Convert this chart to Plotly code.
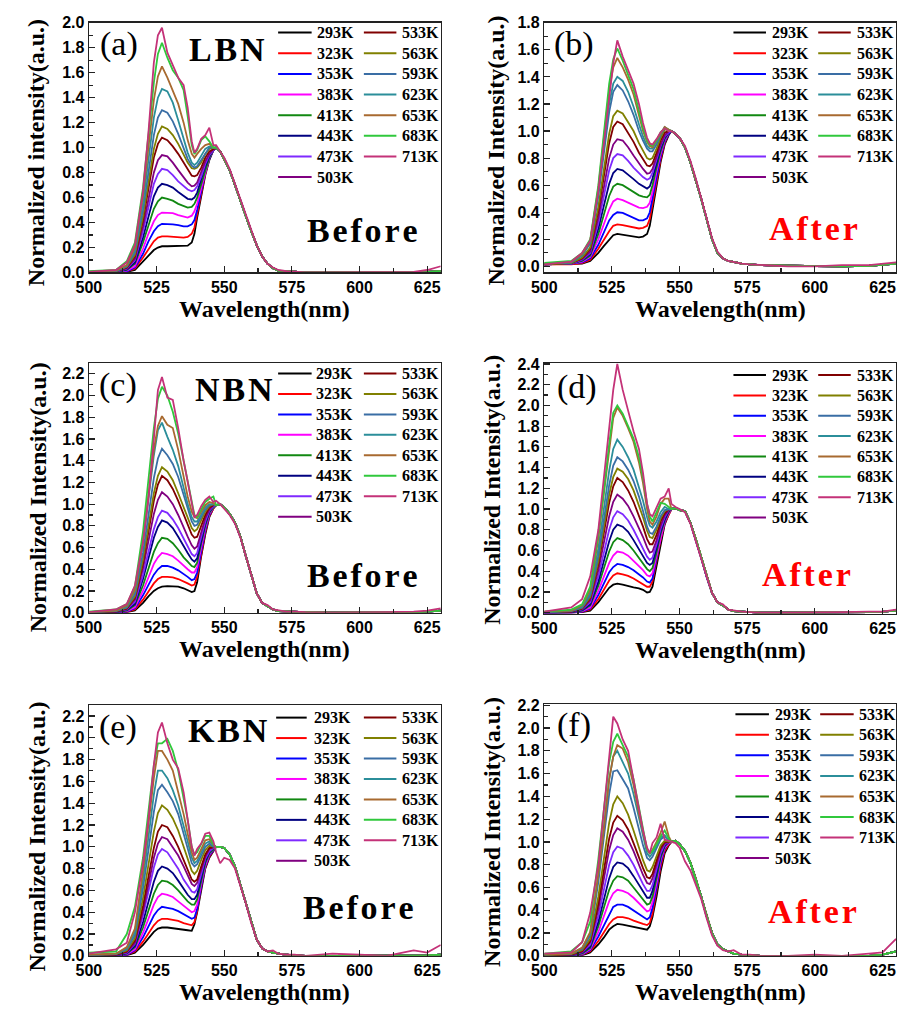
import plotly.graph_objects as go

W, H = 901, 1015


def px(x):
    return x / W


def py(y):
    return 1 - y / H


SERIF = "Liberation Serif"
SANS = "Liberation Sans"

temps = ["293K", "323K", "353K", "383K", "413K", "443K", "473K", "503K",
         "533K", "563K", "593K", "623K", "653K", "683K", "713K"]
colors = ["#000000", "#FF0000", "#0000FF", "#FF00FF", "#118811", "#000080",
          "#7F2AFF", "#800080", "#800000", "#808000", "#3A6EA5", "#2B8E9A",
          "#A86A30", "#30C83C", "#C43278"]

xtick_vals = [500, 525, 550, 575, 600, 625]

# wavelength grids (nm): rising/first-band part and second-band/tail part
wl_head = [500, 510, 514, 517, 520, 522, 524, 525.5, 527, 529, 531, 533, 535,
           536.5, 538, 539, 540, 541.5, 543, 544.5, 546]
wl_tail = [547, 548.5, 550, 552, 554, 556, 558, 560, 562, 564, 566, 568, 570,
           573, 576, 580, 590, 600, 610, 620, 625, 630]

# ---------------- (a) LBN before ----------------
lbn_before = [
    [0.0, 0.0, 0.005, 0.02, 0.09, 0.14, 0.18, 0.2, 0.21, 0.21, 0.21, 0.21, 0.21, 0.215, 0.24, 0.31, 0.44, 0.62, 0.78, 0.9, 0.98],
    [0.0, 0.0, 0.01, 0.03, 0.12, 0.19, 0.25, 0.28, 0.29, 0.29, 0.285, 0.285, 0.28, 0.285, 0.31, 0.36, 0.46, 0.63, 0.79, 0.91, 0.98],
    [0.0, 0.0, 0.01, 0.04, 0.15, 0.25, 0.33, 0.37, 0.39, 0.39, 0.385, 0.38, 0.37, 0.37, 0.385, 0.42, 0.5, 0.65, 0.8, 0.91, 0.98],
    [0.0, 0.005, 0.015, 0.05, 0.19, 0.31, 0.41, 0.46, 0.48, 0.48, 0.475, 0.46, 0.445, 0.44, 0.455, 0.49, 0.55, 0.68, 0.81, 0.92, 0.98],
    [0.0, 0.005, 0.02, 0.07, 0.24, 0.38, 0.51, 0.57, 0.6, 0.59, 0.575, 0.55, 0.53, 0.52, 0.525, 0.55, 0.6, 0.71, 0.83, 0.92, 0.98],
    [0.0, 0.005, 0.025, 0.08, 0.28, 0.45, 0.61, 0.68, 0.71, 0.7, 0.68, 0.645, 0.61, 0.59, 0.585, 0.6, 0.64, 0.74, 0.85, 0.93, 0.98],
    [0.0, 0.005, 0.03, 0.1, 0.33, 0.53, 0.71, 0.79, 0.83, 0.82, 0.78, 0.73, 0.69, 0.665, 0.65, 0.66, 0.69, 0.77, 0.87, 0.94, 0.98],
    [0.0, 0.01, 0.035, 0.11, 0.37, 0.6, 0.8, 0.9, 0.94, 0.93, 0.88, 0.82, 0.76, 0.72, 0.69, 0.695, 0.72, 0.8, 0.89, 0.95, 0.99],
    [0.0, 0.01, 0.04, 0.13, 0.42, 0.68, 0.92, 1.03, 1.08, 1.06, 1.01, 0.95, 0.88, 0.82, 0.775, 0.77, 0.78, 0.84, 0.92, 0.97, 0.99],
    [0.0, 0.01, 0.045, 0.14, 0.45, 0.73, 0.99, 1.11, 1.17, 1.15, 1.1, 1.03, 0.94, 0.88, 0.835, 0.83, 0.84, 0.88, 0.95, 0.99, 1.0],
    [0.005, 0.01, 0.05, 0.16, 0.5, 0.81, 1.1, 1.24, 1.3, 1.28, 1.21, 1.11, 0.99, 0.91, 0.855, 0.84, 0.85, 0.9, 0.96, 1.0, 1.0],
    [0.005, 0.015, 0.055, 0.18, 0.56, 0.91, 1.24, 1.4, 1.47, 1.45, 1.36, 1.22, 1.06, 0.96, 0.88, 0.86, 0.88, 0.93, 0.99, 1.01, 1.0],
    [0.005, 0.015, 0.06, 0.2, 0.62, 1.01, 1.38, 1.57, 1.65, 1.56, 1.46, 1.35, 1.2, 1.06, 0.95, 0.92, 0.95, 0.99, 1.02, 1.03, 1.0],
    [0.01, 0.02, 0.09, 0.24, 0.68, 1.1, 1.52, 1.75, 1.84, 1.72, 1.62, 1.56, 1.46, 1.25, 1.02, 0.95, 0.98, 1.06, 1.09, 1.05, 1.0],
    [0.005, 0.02, 0.08, 0.22, 0.65, 1.12, 1.68, 1.9, 1.96, 1.76, 1.66, 1.56, 1.5, 1.32, 1.05, 0.96, 0.99, 1.07, 1.1, 1.16, 1.02],
]
lbn_before_tail = [1.0, 0.97, 0.91, 0.82, 0.7, 0.57, 0.45, 0.33, 0.22, 0.13, 0.07, 0.035, 0.015, 0.01, 0.005, 0.0, 0.0, 0.0, 0.0, 0.0, 0.005, 0.01]
lbn_before_tail_713 = [1.02, 0.97, 0.92, 0.83, 0.71, 0.58, 0.46, 0.34, 0.22, 0.13, 0.07, 0.04, 0.02, 0.01, 0.005, 0.0, 0.0, 0.0, 0.0, 0.005, 0.02, 0.05]

# ---------------- (b) LBN after ----------------
lbn_after = [
    [0.015, 0.015, 0.02, 0.04, 0.1, 0.15, 0.2, 0.23, 0.24, 0.235, 0.225, 0.22, 0.215, 0.22, 0.24, 0.3, 0.42, 0.6, 0.77, 0.9, 0.97],
    [0.015, 0.015, 0.025, 0.05, 0.13, 0.2, 0.26, 0.3, 0.31, 0.305, 0.295, 0.285, 0.28, 0.285, 0.3, 0.35, 0.46, 0.63, 0.79, 0.91, 0.98],
    [0.015, 0.02, 0.03, 0.06, 0.16, 0.25, 0.34, 0.38, 0.4, 0.395, 0.375, 0.355, 0.34, 0.34, 0.355, 0.4, 0.5, 0.66, 0.81, 0.92, 0.98],
    [0.015, 0.02, 0.035, 0.07, 0.2, 0.31, 0.42, 0.48, 0.5, 0.49, 0.47, 0.45, 0.435, 0.43, 0.44, 0.47, 0.55, 0.7, 0.83, 0.93, 0.99],
    [0.015, 0.02, 0.04, 0.08, 0.24, 0.38, 0.52, 0.59, 0.61, 0.6, 0.575, 0.55, 0.525, 0.515, 0.51, 0.53, 0.6, 0.73, 0.85, 0.94, 0.99],
    [0.015, 0.02, 0.045, 0.09, 0.28, 0.45, 0.61, 0.69, 0.72, 0.71, 0.68, 0.645, 0.61, 0.59, 0.575, 0.59, 0.65, 0.76, 0.87, 0.95, 0.99],
    [0.015, 0.02, 0.05, 0.1, 0.32, 0.52, 0.71, 0.8, 0.83, 0.82, 0.78, 0.73, 0.69, 0.66, 0.64, 0.65, 0.69, 0.79, 0.89, 0.96, 0.99],
    [0.015, 0.025, 0.055, 0.11, 0.36, 0.59, 0.8, 0.9, 0.94, 0.93, 0.88, 0.82, 0.76, 0.72, 0.685, 0.69, 0.72, 0.81, 0.9, 0.97, 1.0],
    [0.015, 0.025, 0.06, 0.13, 0.41, 0.67, 0.91, 1.03, 1.07, 1.05, 0.99, 0.92, 0.84, 0.79, 0.745, 0.74, 0.76, 0.84, 0.93, 0.99, 1.0],
    [0.015, 0.025, 0.065, 0.14, 0.44, 0.72, 0.98, 1.11, 1.15, 1.13, 1.07, 1.0, 0.91, 0.85, 0.8, 0.79, 0.8, 0.87, 0.95, 1.01, 1.01],
    [0.02, 0.03, 0.08, 0.17, 0.52, 0.85, 1.14, 1.29, 1.34, 1.3, 1.22, 1.12, 1.0, 0.93, 0.87, 0.85, 0.85, 0.9, 0.97, 1.02, 1.01],
    [0.02, 0.03, 0.085, 0.18, 0.55, 0.9, 1.2, 1.35, 1.4, 1.37, 1.29, 1.18, 1.05, 0.96, 0.89, 0.87, 0.87, 0.92, 0.98, 1.03, 1.01],
    [0.02, 0.035, 0.09, 0.19, 0.58, 0.95, 1.3, 1.47, 1.54, 1.47, 1.38, 1.27, 1.12, 1.0, 0.92, 0.89, 0.88, 0.93, 0.99, 1.03, 1.01],
    [0.025, 0.04, 0.1, 0.2, 0.6, 0.98, 1.35, 1.53, 1.61, 1.52, 1.42, 1.31, 1.15, 1.02, 0.93, 0.9, 0.89, 0.93, 0.99, 1.02, 1.0],
    [0.015, 0.035, 0.1, 0.19, 0.56, 0.9, 1.28, 1.5, 1.67, 1.55, 1.45, 1.35, 1.2, 1.06, 0.95, 0.91, 0.9, 0.94, 0.99, 1.02, 1.0],
]
lbn_after_tail = [1.0, 0.98, 0.95, 0.88, 0.77, 0.64, 0.5, 0.35, 0.2, 0.1, 0.06, 0.04, 0.03, 0.02, 0.015, 0.01, 0.005, 0.0, 0.0, 0.005, 0.01, 0.02]
lbn_after_tail_713 = [1.0, 0.98, 0.95, 0.89, 0.78, 0.65, 0.5, 0.36, 0.21, 0.11, 0.06, 0.04, 0.03, 0.02, 0.015, 0.01, 0.0, 0.0, 0.01, 0.01, 0.02, 0.03]

# ---------------- (c) NBN before ----------------
nbn_before = [
    [0.0, 0.0, 0.005, 0.02, 0.09, 0.15, 0.2, 0.225, 0.24, 0.245, 0.245, 0.24, 0.225, 0.21, 0.19, 0.2, 0.28, 0.52, 0.72, 0.88, 0.96],
    [0.0, 0.0, 0.008, 0.03, 0.12, 0.2, 0.27, 0.31, 0.33, 0.33, 0.325, 0.31, 0.29, 0.27, 0.25, 0.26, 0.33, 0.55, 0.74, 0.89, 0.96],
    [0.0, 0.0, 0.01, 0.04, 0.16, 0.26, 0.35, 0.4, 0.43, 0.43, 0.415, 0.39, 0.36, 0.33, 0.3, 0.31, 0.37, 0.58, 0.76, 0.9, 0.97],
    [0.0, 0.005, 0.015, 0.05, 0.2, 0.33, 0.45, 0.51, 0.55, 0.54, 0.52, 0.48, 0.43, 0.4, 0.37, 0.37, 0.42, 0.61, 0.78, 0.91, 0.97],
    [0.0, 0.005, 0.02, 0.07, 0.25, 0.41, 0.56, 0.64, 0.69, 0.68, 0.64, 0.58, 0.51, 0.47, 0.43, 0.42, 0.46, 0.64, 0.8, 0.92, 0.97],
    [0.0, 0.005, 0.025, 0.08, 0.31, 0.51, 0.69, 0.79, 0.85, 0.83, 0.78, 0.7, 0.61, 0.55, 0.49, 0.47, 0.5, 0.67, 0.82, 0.93, 0.98],
    [0.0, 0.01, 0.03, 0.1, 0.35, 0.57, 0.77, 0.88, 0.94, 0.92, 0.86, 0.78, 0.68, 0.61, 0.54, 0.52, 0.55, 0.7, 0.84, 0.94, 0.98],
    [0.0, 0.01, 0.035, 0.12, 0.41, 0.67, 0.91, 1.04, 1.11, 1.07, 1.0, 0.9, 0.78, 0.7, 0.62, 0.59, 0.61, 0.74, 0.87, 0.95, 0.99],
    [0.0, 0.01, 0.04, 0.14, 0.46, 0.76, 1.03, 1.18, 1.26, 1.22, 1.14, 1.03, 0.9, 0.8, 0.72, 0.69, 0.7, 0.8, 0.9, 0.97, 0.99],
    [0.005, 0.015, 0.045, 0.15, 0.49, 0.81, 1.1, 1.26, 1.34, 1.3, 1.22, 1.1, 0.97, 0.87, 0.78, 0.75, 0.77, 0.85, 0.93, 0.98, 1.0],
    [0.005, 0.015, 0.05, 0.17, 0.55, 0.91, 1.24, 1.42, 1.51, 1.45, 1.37, 1.25, 1.08, 0.95, 0.84, 0.8, 0.81, 0.88, 0.95, 0.99, 1.0],
    [0.005, 0.02, 0.06, 0.2, 0.64, 1.06, 1.45, 1.68, 1.75, 1.62, 1.5, 1.35, 1.15, 1.0, 0.88, 0.84, 0.84, 0.9, 0.97, 1.0, 1.0],
    [0.005, 0.02, 0.065, 0.21, 0.66, 1.1, 1.5, 1.72, 1.81, 1.73, 1.7, 1.5, 1.25, 1.07, 0.93, 0.88, 0.87, 0.93, 0.99, 1.02, 1.01],
    [0.01, 0.03, 0.08, 0.24, 0.75, 1.25, 1.7, 1.97, 2.08, 2.0, 1.85, 1.65, 1.4, 1.2, 1.0, 0.9, 0.88, 0.95, 1.02, 1.05, 1.07],
    [0.005, 0.03, 0.08, 0.25, 0.65, 1.05, 1.6, 2.05, 2.17, 1.98, 1.96, 1.7, 1.4, 1.2, 1.02, 0.88, 0.9, 0.98, 1.04, 1.07, 1.02],
]
nbn_before_tail = [0.99, 1.0, 0.97, 0.91, 0.83, 0.7, 0.52, 0.35, 0.18, 0.09, 0.06, 0.03, 0.015, 0.01, 0.005, 0.005, 0.0, 0.0, 0.0, 0.005, 0.01, 0.02]
nbn_before_tail_713 = [1.03, 1.0, 0.96, 0.9, 0.82, 0.69, 0.52, 0.35, 0.18, 0.09, 0.07, 0.03, 0.02, 0.01, 0.01, 0.005, 0.0, 0.0, 0.005, 0.01, 0.02, 0.04]

# ---------------- (d) NBN after ----------------
nbn_after = [
    [0.0, 0.0, 0.005, 0.02, 0.1, 0.17, 0.24, 0.27, 0.28, 0.27, 0.255, 0.245, 0.235, 0.22, 0.195, 0.2, 0.25, 0.45, 0.68, 0.85, 0.95],
    [0.0, 0.0, 0.008, 0.03, 0.13, 0.22, 0.31, 0.36, 0.38, 0.37, 0.355, 0.33, 0.3, 0.28, 0.25, 0.25, 0.3, 0.5, 0.7, 0.86, 0.95],
    [0.0, 0.0, 0.01, 0.04, 0.17, 0.28, 0.39, 0.44, 0.47, 0.46, 0.44, 0.41, 0.37, 0.34, 0.3, 0.29, 0.33, 0.52, 0.72, 0.87, 0.96],
    [0.0, 0.005, 0.015, 0.05, 0.21, 0.35, 0.48, 0.55, 0.59, 0.58, 0.55, 0.5, 0.45, 0.41, 0.36, 0.35, 0.38, 0.55, 0.74, 0.88, 0.96],
    [0.0, 0.005, 0.02, 0.07, 0.26, 0.43, 0.59, 0.68, 0.72, 0.7, 0.66, 0.6, 0.53, 0.48, 0.42, 0.4, 0.43, 0.58, 0.76, 0.89, 0.97],
    [0.0, 0.005, 0.025, 0.08, 0.3, 0.5, 0.69, 0.8, 0.85, 0.83, 0.78, 0.7, 0.61, 0.55, 0.48, 0.46, 0.48, 0.62, 0.78, 0.9, 0.98],
    [0.0, 0.01, 0.03, 0.1, 0.35, 0.58, 0.8, 0.92, 0.98, 0.95, 0.89, 0.8, 0.7, 0.62, 0.54, 0.51, 0.53, 0.66, 0.81, 0.92, 0.99],
    [0.0, 0.01, 0.035, 0.12, 0.41, 0.68, 0.93, 1.07, 1.14, 1.1, 1.03, 0.93, 0.82, 0.73, 0.63, 0.58, 0.59, 0.7, 0.84, 0.94, 0.99],
    [0.005, 0.01, 0.04, 0.14, 0.47, 0.78, 1.06, 1.22, 1.3, 1.26, 1.18, 1.07, 0.94, 0.83, 0.71, 0.66, 0.66, 0.75, 0.88, 0.96, 1.0],
    [0.005, 0.015, 0.045, 0.15, 0.5, 0.83, 1.14, 1.31, 1.39, 1.36, 1.29, 1.18, 1.04, 0.92, 0.79, 0.73, 0.72, 0.8, 0.91, 0.98, 1.0],
    [0.005, 0.015, 0.05, 0.17, 0.55, 0.9, 1.23, 1.42, 1.5, 1.46, 1.38, 1.27, 1.12, 0.98, 0.83, 0.77, 0.76, 0.83, 0.93, 0.99, 1.0],
    [0.005, 0.02, 0.06, 0.19, 0.62, 1.01, 1.37, 1.58, 1.67, 1.6, 1.5, 1.38, 1.22, 1.08, 0.92, 0.84, 0.82, 0.88, 0.97, 1.02, 1.0],
    [0.01, 0.02, 0.07, 0.22, 0.72, 1.16, 1.6, 1.88, 1.98, 1.9, 1.78, 1.65, 1.45, 1.25, 1.0, 0.88, 0.85, 0.93, 1.05, 1.1, 1.1],
    [0.01, 0.03, 0.08, 0.25, 0.77, 1.17, 1.63, 1.93, 2.0, 1.92, 1.8, 1.68, 1.5, 1.3, 1.05, 0.93, 0.88, 0.97, 1.06, 1.05, 1.02],
    [0.01, 0.05, 0.13, 0.35, 0.8, 1.3, 1.8, 2.15, 2.4, 2.15, 1.95, 1.75, 1.58, 1.35, 1.05, 0.95, 0.93, 1.02, 1.1, 1.12, 1.2],
]
nbn_after_tail = [1.0, 1.01, 0.99, 0.98, 0.87, 0.71, 0.53, 0.35, 0.19, 0.1, 0.07, 0.03, 0.015, 0.01, 0.005, 0.0, 0.0, 0.0, 0.0, 0.005, 0.01, 0.02]
nbn_after_tail_713 = [1.05, 1.02, 1.0, 0.97, 0.86, 0.7, 0.52, 0.35, 0.19, 0.1, 0.08, 0.03, 0.02, 0.01, 0.005, 0.0, 0.0, 0.0, 0.005, 0.01, 0.01, 0.03]

# ---------------- (e) KBN before ----------------
kbn_before = [
    [0.0, 0.0, 0.005, 0.03, 0.1, 0.16, 0.22, 0.25, 0.26, 0.26, 0.255, 0.25, 0.245, 0.235, 0.23, 0.29, 0.4, 0.62, 0.8, 0.9, 0.96],
    [0.0, 0.0, 0.008, 0.04, 0.13, 0.21, 0.28, 0.32, 0.34, 0.34, 0.33, 0.32, 0.3, 0.29, 0.28, 0.31, 0.41, 0.63, 0.81, 0.91, 0.97],
    [0.0, 0.0, 0.01, 0.05, 0.17, 0.27, 0.37, 0.42, 0.45, 0.44, 0.43, 0.41, 0.38, 0.36, 0.34, 0.35, 0.43, 0.64, 0.82, 0.92, 0.97],
    [0.0, 0.005, 0.015, 0.06, 0.21, 0.34, 0.47, 0.54, 0.57, 0.56, 0.54, 0.5, 0.46, 0.43, 0.4, 0.41, 0.47, 0.66, 0.83, 0.93, 0.98],
    [0.0, 0.005, 0.02, 0.08, 0.26, 0.42, 0.57, 0.65, 0.69, 0.68, 0.65, 0.6, 0.54, 0.5, 0.47, 0.47, 0.52, 0.69, 0.85, 0.94, 0.98],
    [0.0, 0.005, 0.025, 0.09, 0.31, 0.5, 0.68, 0.78, 0.82, 0.8, 0.76, 0.69, 0.61, 0.56, 0.52, 0.52, 0.56, 0.72, 0.87, 0.95, 0.99],
    [0.0, 0.01, 0.03, 0.11, 0.37, 0.6, 0.81, 0.93, 0.98, 0.95, 0.88, 0.8, 0.7, 0.64, 0.59, 0.58, 0.61, 0.75, 0.89, 0.96, 0.99],
    [0.0, 0.01, 0.035, 0.12, 0.41, 0.67, 0.9, 1.03, 1.09, 1.07, 1.0, 0.92, 0.82, 0.74, 0.66, 0.64, 0.67, 0.79, 0.91, 0.98, 1.0],
    [0.005, 0.01, 0.04, 0.14, 0.46, 0.74, 0.99, 1.14, 1.2, 1.18, 1.1, 1.0, 0.88, 0.79, 0.7, 0.68, 0.7, 0.82, 0.93, 0.99, 1.0],
    [0.005, 0.015, 0.05, 0.16, 0.53, 0.85, 1.14, 1.31, 1.38, 1.34, 1.26, 1.15, 1.0, 0.89, 0.78, 0.75, 0.78, 0.88, 0.97, 1.01, 1.0],
    [0.005, 0.015, 0.06, 0.19, 0.62, 0.99, 1.32, 1.52, 1.57, 1.5, 1.42, 1.3, 1.12, 0.98, 0.85, 0.82, 0.84, 0.92, 1.0, 1.03, 1.0],
    [0.01, 0.02, 0.07, 0.22, 0.7, 1.1, 1.48, 1.7, 1.7, 1.63, 1.52, 1.38, 1.2, 1.05, 0.9, 0.85, 0.87, 0.95, 1.03, 1.05, 1.01],
    [0.01, 0.02, 0.08, 0.25, 0.78, 1.22, 1.63, 1.88, 1.88, 1.8, 1.7, 1.5, 1.3, 1.12, 0.95, 0.88, 0.9, 0.98, 1.06, 1.07, 1.02],
    [0.03, 0.04, 0.2, 0.45, 0.9, 1.3, 1.75, 1.95, 1.95, 1.99, 1.88, 1.7, 1.45, 1.25, 1.0, 0.93, 0.95, 1.02, 1.1, 1.1, 1.02],
    [0.02, 0.06, 0.12, 0.4, 0.85, 1.25, 1.75, 2.05, 2.14, 1.95, 1.8, 1.72, 1.5, 1.25, 1.0, 0.92, 0.98, 1.03, 1.12, 1.13, 1.05],
]
kbn_before_tail = [1.0, 1.0, 0.99, 0.93, 0.82, 0.65, 0.48, 0.3, 0.15, 0.07, 0.04, 0.03, 0.02, 0.01, 0.005, 0.0, 0.0, 0.0, 0.0, 0.0, 0.005, 0.01]
kbn_before_tail_713 = [0.95, 0.85, 0.9, 0.88, 0.8, 0.65, 0.48, 0.3, 0.15, 0.07, 0.04, 0.05, 0.02, 0.01, 0.01, 0.0, 0.02, 0.01, 0.0, 0.05, 0.03, 0.1]

# ---------------- (f) KBN after ----------------
kbn_after = [
    [0.0, 0.0, 0.005, 0.03, 0.1, 0.16, 0.23, 0.26, 0.28, 0.275, 0.265, 0.25, 0.24, 0.235, 0.23, 0.26, 0.34, 0.52, 0.74, 0.9, 0.97],
    [0.0, 0.0, 0.008, 0.04, 0.13, 0.2, 0.28, 0.32, 0.34, 0.34, 0.33, 0.31, 0.29, 0.28, 0.27, 0.29, 0.37, 0.56, 0.78, 0.92, 0.98],
    [0.0, 0.0, 0.01, 0.05, 0.17, 0.27, 0.37, 0.43, 0.45, 0.45, 0.43, 0.4, 0.37, 0.34, 0.32, 0.34, 0.42, 0.6, 0.81, 0.94, 0.99],
    [0.0, 0.005, 0.015, 0.06, 0.21, 0.34, 0.48, 0.55, 0.58, 0.57, 0.55, 0.51, 0.46, 0.42, 0.39, 0.4, 0.47, 0.64, 0.84, 0.95, 0.99],
    [0.0, 0.005, 0.02, 0.07, 0.26, 0.41, 0.58, 0.66, 0.7, 0.69, 0.66, 0.6, 0.54, 0.49, 0.45, 0.46, 0.52, 0.68, 0.86, 0.96, 1.0],
    [0.0, 0.005, 0.025, 0.08, 0.3, 0.48, 0.68, 0.78, 0.82, 0.81, 0.77, 0.7, 0.62, 0.56, 0.51, 0.51, 0.57, 0.72, 0.88, 0.97, 1.0],
    [0.0, 0.01, 0.03, 0.1, 0.35, 0.56, 0.8, 0.91, 0.96, 0.94, 0.88, 0.8, 0.7, 0.63, 0.57, 0.57, 0.62, 0.76, 0.9, 0.98, 1.0],
    [0.005, 0.01, 0.035, 0.12, 0.41, 0.66, 0.93, 1.06, 1.12, 1.09, 1.02, 0.92, 0.8, 0.71, 0.64, 0.63, 0.68, 0.8, 0.93, 0.99, 1.0],
    [0.005, 0.01, 0.04, 0.13, 0.46, 0.74, 1.03, 1.17, 1.23, 1.19, 1.11, 0.99, 0.86, 0.77, 0.69, 0.68, 0.72, 0.84, 0.95, 1.0, 1.0],
    [0.005, 0.015, 0.05, 0.15, 0.52, 0.84, 1.17, 1.33, 1.4, 1.34, 1.24, 1.1, 0.95, 0.84, 0.75, 0.74, 0.78, 0.88, 0.97, 1.01, 1.0],
    [0.01, 0.02, 0.06, 0.18, 0.65, 1.02, 1.42, 1.62, 1.63, 1.55, 1.47, 1.3, 1.1, 0.97, 0.86, 0.84, 0.87, 0.95, 1.02, 1.05, 1.01],
    [0.01, 0.02, 0.07, 0.2, 0.7, 1.1, 1.55, 1.75, 1.8, 1.7, 1.6, 1.42, 1.2, 1.05, 0.9, 0.87, 0.9, 0.97, 1.04, 1.06, 1.01],
    [0.01, 0.02, 0.07, 0.21, 0.72, 1.1, 1.55, 1.75, 1.85, 1.82, 1.7, 1.5, 1.25, 1.08, 0.93, 0.9, 0.93, 1.0, 1.08, 1.18, 1.05],
    [0.02, 0.04, 0.12, 0.3, 0.85, 1.3, 1.7, 1.88, 1.95, 1.85, 1.75, 1.55, 1.3, 1.1, 0.93, 0.9, 0.92, 0.98, 1.05, 1.1, 1.03],
    [0.02, 0.03, 0.12, 0.38, 0.8, 1.25, 1.75, 2.1, 2.04, 1.9, 1.8, 1.55, 1.27, 1.1, 0.95, 0.9, 0.99, 1.04, 1.16, 1.02, 1.01],
]
kbn_after_tail = [1.0, 1.01, 0.98, 0.92, 0.82, 0.68, 0.52, 0.35, 0.2, 0.1, 0.06, 0.04, 0.02, 0.01, 0.005, 0.0, 0.0, 0.0, 0.0, 0.0, 0.01, 0.04]
kbn_after_tail_713 = [1.0, 0.99, 0.95, 0.83, 0.75, 0.63, 0.5, 0.33, 0.18, 0.09, 0.05, 0.04, 0.05, 0.01, 0.01, 0.0, 0.0, 0.01, 0.0, 0.02, 0.03, 0.15]

ytitle_lower = "Normalized intensity(a.u.)"
ytitle_upper = "Normalized Intensity(a.u.)"

# layout of each panel, in screen pixels
panels = [
    dict(head=lbn_before, tail=lbn_before_tail, hot=lbn_before_tail_713,
         box=(77, 434, 15, 269), yrange=[0, 2.0], ytitle=ytitle_lower, yt=(23, 147),
         label="(a)", lab=(108, 37), host="LBN", hostpos=(217, 42.5),
         state="Before", spos=(354, 226), scol="#000000",
         leg=((269, 303, 306), (356, 389, 393), 25, 21)),
    dict(head=lbn_after, tail=lbn_after_tail, hot=lbn_after_tail_713,
         box=(539, 896, 15, 269), yrange=[-0.045, 1.8], ytitle=ytitle_upper, yt=(490, 145),
         label="(b)", lab=(569, 37), host=None, hostpos=None,
         state="After", spos=(812, 224), scol="#FF0000",
         leg=((731, 764, 768), (817, 850, 854), 25, 21)),
    dict(head=nbn_before, tail=nbn_before_tail, hot=nbn_before_tail_713,
         box=(77, 434, 361, 615), yrange=[0, 2.3], ytitle=ytitle_upper, yt=(25, 498),
         label="(c)", lab=(107, 383), host="NBN", hostpos=(224, 387.5),
         state="Before", spos=(354, 577.5), scol="#000000",
         leg=((269, 303, 305), (356, 389, 393), 371.7, 20.8)),
    dict(head=nbn_after, tail=nbn_after_tail, hot=nbn_after_tail_713,
         box=(539, 896, 361, 616), yrange=[-0.01, 2.41], ytitle=ytitle_upper, yt=(486, 490),
         label="(d)", lab=(572, 385), host=None, hostpos=None,
         state="After", spos=(805, 576), scol="#FF0000",
         leg=((731, 764, 768), (817, 850, 854), 373.3, 20.7)),
    dict(head=kbn_before, tail=kbn_before_tail, hot=kbn_before_tail_713,
         box=(77, 434, 709, 964), yrange=[0, 2.3], ytitle=ytitle_upper, yt=(24, 843),
         label="(e)", lab=(107, 731.7), host="KBN", hostpos=(218, 735),
         state="Before", spos=(350, 915), scol="#000000",
         leg=((267, 298, 303), (356, 389, 393), 721.7, 20.8)),
    dict(head=kbn_after, tail=kbn_after_tail, hot=kbn_after_tail_713,
         box=(539, 896, 708, 964), yrange=[0, 2.21], ytitle=ytitle_upper, yt=(486, 838),
         label="(f)", lab=(569, 729), host=None, hostpos=None,
         state="After", spos=(811, 919), scol="#FF0000",
         leg=((733, 767, 771), (819, 853, 856), 718.3, 20.9)),
]

HAIR = "\u200a"


def spaced(s):
    return HAIR.join(list(s))


fig = go.Figure()
annotations = []
shapes = []
x_wl = wl_head + wl_tail

for k, p in enumerate(panels):
    n = "" if k == 0 else str(k + 1)
    xa, ya = "x" + n, "y" + n
    for i, t in enumerate(temps):
        tail = p["hot"] if i == len(temps) - 1 else p["tail"]
        fig.add_trace(go.Scatter(
            x=x_wl, y=p["head"][i] + tail, mode="lines", name=t,
            line=dict(color=colors[i], width=1.8), showlegend=False,
            hoverinfo="skip", xaxis=xa, yaxis=ya))
    x0, x1, y0, y1 = p["box"]
    axis_common = dict(
        showline=True, linecolor="#222222", linewidth=1.3, mirror=True,
        ticks="inside", ticklen=6, tickwidth=1.2, tickcolor="#222222",
        showgrid=False, zeroline=False,
        tickfont=dict(family=SANS, size=16, color="#000000", weight="bold"),
    )
    fig.layout["xaxis" + n] = dict(
        domain=[px(x0), px(x1)], anchor=ya, range=[500, 630],
        tickvals=xtick_vals,
        minor=dict(tickvals=[512.5, 537.5, 562.5, 587.5, 612.5], ticks="inside",
                   ticklen=4, tickcolor="#222222", tickwidth=1.2),
        **axis_common)
    fig.layout["yaxis" + n] = dict(
        domain=[py(y1), py(y0)], anchor=xa, range=p["yrange"],
        dtick=0.2, tick0=0, tickformat=".1f",
        minor=dict(dtick=0.1, ticks="inside", ticklen=4, tickcolor="#222222",
                   tickwidth=1.2),
        **axis_common)

    # axis titles
    annotations.append(dict(
        text="Wavelength(nm)", x=px((x0 + x1) / 2), y=py(y1 + 37),
        xref="paper", yref="paper", xanchor="center", yanchor="middle",
        showarrow=False, font=dict(family=SERIF, size=24, color="#000000", weight="bold")))
    annotations.append(dict(
        text=p["ytitle"], x=px(p["yt"][0]), y=py(p["yt"][1]), textangle=-90,
        xref="paper", yref="paper", xanchor="center", yanchor="middle",
        showarrow=False, font=dict(family=SERIF, size=24, color="#000000", weight="bold")))
    # panel label
    annotations.append(dict(
        text=p["label"], x=px(p["lab"][0]), y=py(p["lab"][1]),
        xref="paper", yref="paper", xanchor="center", yanchor="middle",
        showarrow=False, font=dict(family=SERIF, size=34, color="#000000")))
    if p["host"]:
        annotations.append(dict(
            text=spaced(p["host"]), x=px(p["hostpos"][0]), y=py(p["hostpos"][1]),
            xref="paper", yref="paper", xanchor="center", yanchor="middle",
            showarrow=False, font=dict(family=SERIF, size=34, color="#000000", weight="bold")))
    annotations.append(dict(
        text=spaced(p["state"]), x=px(p["spos"][0]), y=py(p["spos"][1]),
        xref="paper", yref="paper", xanchor="center", yanchor="middle",
        showarrow=False, font=dict(family=SERIF, size=34, color=p["scol"], weight="bold")))

    # legend (two columns: 8 + 7 entries)
    col1, col2, row0, step = p["leg"]
    for i, t in enumerate(temps):
        col = col1 if i < 8 else col2
        r = i if i < 8 else i - 8
        yy = row0 + r * step
        shapes.append(dict(type="line", xref="paper", yref="paper",
                           x0=px(col[0]), x1=px(col[1]), y0=py(yy), y1=py(yy),
                           line=dict(color=colors[i], width=2)))
        annotations.append(dict(
            text=t, x=px(col[2]), y=py(yy), xref="paper", yref="paper",
            xanchor="left", yanchor="middle", showarrow=False,
            font=dict(family=SERIF, size=16, color="#000000", weight="bold")))

fig.update_layout(
    width=W, height=H, margin=dict(l=0, r=0, t=0, b=0),
    paper_bgcolor="#FFFFFF", plot_bgcolor="#FFFFFF",
    annotations=annotations, shapes=shapes, showlegend=False,
    hovermode=False,
)

fig.write_html(
    "out.html",
    config={"displayModeBar": False, "staticPlot": True},
    post_script="document.body.style.margin='0px';"
                "document.body.style.overflow='hidden';"
                "document.documentElement.style.overflow='hidden';",
)
